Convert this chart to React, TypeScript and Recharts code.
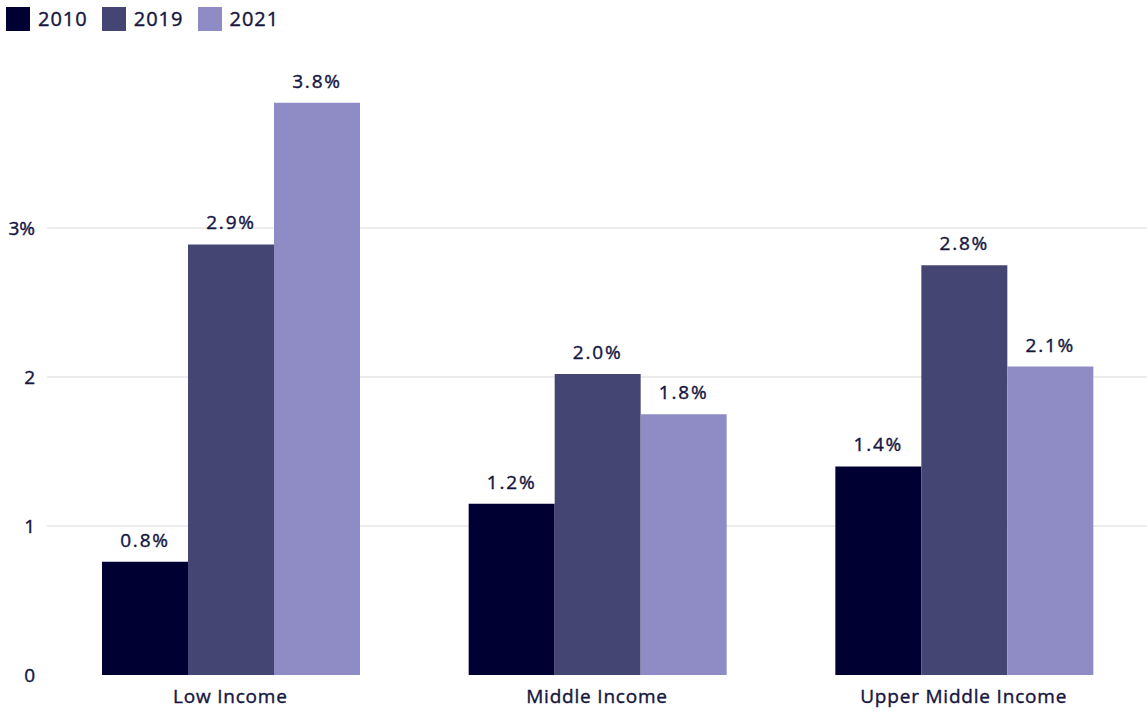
import React from "react";
import { BarChart, Bar, XAxis, YAxis, CartesianGrid, Legend, LabelList } from "recharts";

const categories = ["Low Income", "Middle Income", "Upper Middle Income"];
const series2010 = [0.76, 1.15, 1.4];
const series2019 = [2.89, 2.02, 2.75];
const series2021 = [3.84, 1.75, 2.07];
const labels2010 = ["0.8%", "1.2%", "1.4%"];
const labels2019 = ["2.9%", "2.0%", "2.8%"];
const labels2021 = ["3.8%", "1.8%", "2.1%"];
const yTicks = [0, 1, 2, 3];
const yTickLabels = ["0", "1", "2", "3%"];

const seriesNames = ["2010", "2019", "2021"];
const colors = ["#000033", "#454574", "#8f8cc5"];
const textColor = "#16163f";
const FONT = "'Open Sans', sans-serif";

const data = categories.map((c, i) => ({
  name: c,
  v2010: series2010[i],
  v2019: series2019[i],
  v2021: series2021[i],
  l2010: labels2010[i],
  l2019: labels2019[i],
  l2021: labels2021[i],
}));

const renderLegend = () => (
  <div style={{ display: "flex", alignItems: "center", fontFamily: FONT, fontSize: 20, color: textColor, WebkitTextStroke: "0.4px " + textColor }}>
    {seriesNames.map((n, i) => (
      <div key={n} style={{ display: "flex", alignItems: "center", marginRight: 14 }}>
        <div style={{ width: 24, height: 24, background: colors[i], marginRight: 8 }} />
        <span style={{ letterSpacing: 1 }}>{n}</span>
      </div>
    ))}
  </div>
);

const YTick = (props: any) => {
  const { y, payload } = props;
  const idx = yTicks.indexOf(payload.value);
  return (
    <text x={35} y={y} dy={7} textAnchor="end" fill={textColor} stroke={textColor} strokeWidth={0.4} fontFamily={FONT} fontSize={19}>
      {yTickLabels[idx]}
    </text>
  );
};

const XTick = (props: any) => {
  const { x, y, payload } = props;
  return (
    <text x={x} y={y} dy={20} textAnchor="middle" fill={textColor} stroke={textColor} strokeWidth={0.4} fontFamily={FONT} fontSize={19} letterSpacing={0.8}>
      {payload.value}
    </text>
  );
};

const labelStyle = { fill: textColor, stroke: textColor, strokeWidth: 0.4, fontFamily: FONT, fontSize: 19, letterSpacing: 1.8 };

export default function App() {
  return (
    <div style={{ position: "absolute", left: 0, top: 0, background: "#fff" }}>
      <BarChart
        width={1147}
        height={711}
        data={data}
        margin={{ top: 52, right: 0, bottom: 0, left: 0 }}
        barCategoryGap="15%"
        barGap={0}
      >
        <CartesianGrid vertical={false} stroke="#e6e6e6" strokeWidth={1.5} horizontalValues={[1, 2, 3]} />
        <XAxis dataKey="name" axisLine={false} tickLine={false} height={36} tick={<XTick />} interval={0} />
        <YAxis
          domain={[0, 4]}
          ticks={yTicks}
          axisLine={false}
          tickLine={false}
          width={47}
          tick={<YTick />}
        />
        <Legend
          verticalAlign="top"
          align="left"
          content={renderLegend}
          wrapperStyle={{ top: 5, left: 6 }}
        />
        <Bar dataKey="v2010" name="2010" fill={colors[0]} isAnimationActive={false}>
          <LabelList dataKey="l2010" position="top" offset={15} style={labelStyle} />
        </Bar>
        <Bar dataKey="v2019" name="2019" fill={colors[1]} isAnimationActive={false}>
          <LabelList dataKey="l2019" position="top" offset={15} style={labelStyle} />
        </Bar>
        <Bar dataKey="v2021" name="2021" fill={colors[2]} isAnimationActive={false}>
          <LabelList dataKey="l2021" position="top" offset={15} style={labelStyle} />
        </Bar>
      </BarChart>
    </div>
  );
}
